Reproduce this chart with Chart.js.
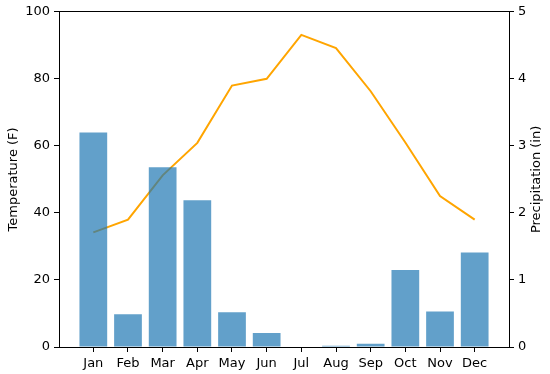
<!DOCTYPE html>
<html><head><meta charset="utf-8">
<script src="https://cdn.jsdelivr.net/npm/chart.js@4"></script>
<style>html,body{margin:0;padding:0;background:#fff}#wrap{width:550px;height:374px}</style>
</head><body><div id="wrap"><canvas id="c" width="550" height="374"></canvas></div>
<script>
const months = ['Jan','Feb','Mar','Apr','May','Jun','Jul','Aug','Sep','Oct','Nov','Dec'];
const temperatureF = [34.2, 38.0, 51.2, 60.9, 78.0, 80.0, 93.1, 89.2, 76.3, 61.0, 45.0, 38.0];
const precipitationIn = [3.2, 0.49, 2.68, 2.19, 0.52, 0.21, 0.0, 0.02, 0.05, 1.15, 0.53, 1.41];
const tempTicks = [0, 20, 40, 60, 80, 100];
const precipTicks = [0, 1, 2, 3, 4, 5];
const leftTitle = 'Temperature (F)';
const rightTitle = 'Precipitation (in)';

const FONT = {family: 'DejaVu Sans', size: 13};
const black = '#000';

const rightTitlePlugin = {
  id: 'rightTitle',
  afterDraw(chart) {
    const ctx = chart.ctx, area = chart.chartArea;
    ctx.save();
    ctx.translate(537, (area.top + area.bottom) / 2);
    ctx.rotate(-Math.PI / 2);
    ctx.font = '13px "DejaVu Sans"';
    ctx.fillStyle = black;
    ctx.textAlign = 'center';
    ctx.textBaseline = 'middle';
    ctx.fillText(rightTitle, 0, 0);
    ctx.restore();
  }
};

new Chart(document.getElementById('c'), {
  data: {
    datasets: [
      {type: 'bar', label: 'Precipitation', yAxisID: 'y1', order: 0,
       data: precipitationIn.map((v, i) => ({x: i, y: v})),
       backgroundColor: 'rgba(31,119,180,0.7)', borderWidth: 0,
       categoryPercentage: 0.8, barPercentage: 1.0},
      {type: 'line', label: 'Temperature', yAxisID: 'y', order: 1,
       data: temperatureF.map((v, i) => ({x: i, y: v})),
       borderColor: '#ffa500', borderWidth: 2, pointRadius: 0, tension: 0, fill: false}
    ]
  },
  plugins: [rightTitlePlugin],
  options: {
    responsive: false, animation: false,
    layout: {padding: 0},
    plugins: {legend: {display: false}, tooltip: {enabled: false}},
    scales: {
      x: {type: 'linear', position: 'bottom', min: -0.99, max: 11.99, offset: false,
          afterBuildTicks: s => { s.ticks = months.map((m, i) => ({value: i})); },
          ticks: {callback: (v) => months[v], color: black, font: FONT, padding: 4, autoSkip: false, maxRotation: 0},
          grid: {drawOnChartArea: false, tickLength: 5, color: black, tickWidth: 1, offset: false},
          border: {display: true, color: black, width: 1},
          afterFit: s => { s.height = 27; }},
      xTop: {type: 'linear', position: 'top', min: 0, max: 1, display: true,
          ticks: {display: false}, grid: {display: false},
          border: {display: true, color: black, width: 1},
          afterFit: s => { s.height = 11.5; }},
      y: {type: 'linear', position: 'left', min: 0, max: 100,
          afterBuildTicks: s => { s.ticks = tempTicks.map(v => ({value: v})); },
          ticks: {color: black, font: FONT, padding: 4},
          grid: {drawOnChartArea: false, tickLength: 5, color: black},
          border: {display: true, color: black, width: 1},
          title: {display: true, text: leftTitle, color: black, font: FONT, padding: {top: 6, bottom: 0}},
          afterFit: s => { s.width = 59; }},
      y1: {type: 'linear', position: 'right', min: 0, max: 5,
          afterBuildTicks: s => { s.ticks = precipTicks.map(v => ({value: v})); },
          ticks: {color: black, font: FONT, padding: 4},
          grid: {drawOnChartArea: false, tickLength: 5, color: black},
          border: {display: true, color: black, width: 1},
          afterFit: s => { s.width = 41; }}
    }
  }
});
</script></body></html>
